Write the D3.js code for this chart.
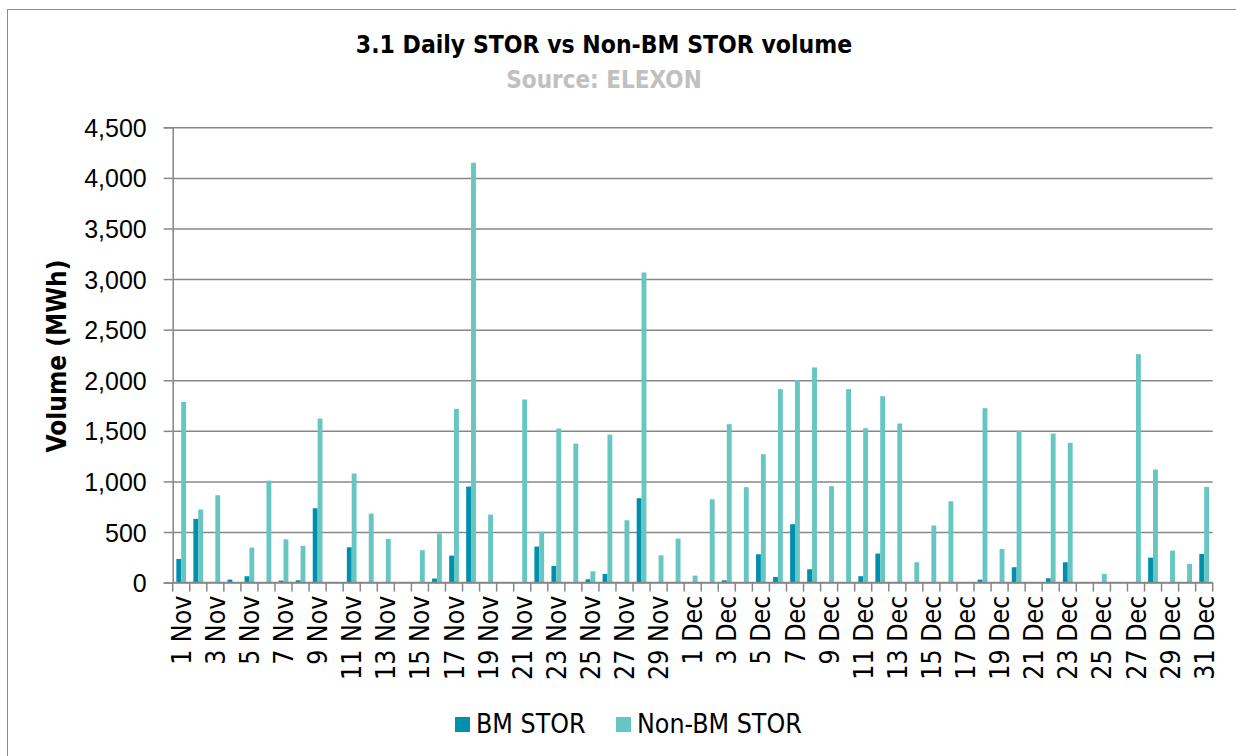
<!DOCTYPE html>
<html>
<head>
<meta charset="utf-8">
<script src="https://cdn.jsdelivr.net/npm/d3@7/dist/d3.min.js"></script>
<style>
	body { margin: 0; background: #fff; }
	svg { display: block; font-family: "DejaVu Sans Condensed", "DejaVu Sans", sans-serif; }
</style>
</head>
<body>
<div id="chart"></div>
<script>
// categories: every day from 1 Nov to 31 Dec
const DAYS = d3.timeDay.range(new Date(2013, 10, 1), new Date(2014, 0, 1)).map(d3.timeFormat('%-d %b'));
const SERIES = ['BM STOR', 'Non-BM STOR'];
const Y_TICKS = [0, 500, 1000, 1500, 2000, 2500, 3000, 3500, 4000, 4500];

// daily volumes in MWh
const BM_STOR = [
	234, 630, 0, 30, 63, 0, 20, 23, 735, 0,
	349, 0, 0, 0, 0, 40, 267, 949, 0, 0,
	0, 356, 165, 0, 33, 86, 0, 834, 0, 0,
	0, 0, 23, 0, 280, 56, 577, 132, 0, 0,
	63, 287, 0, 0, 0, 0, 0, 30, 0, 152,
	0, 43, 201, 0, 0, 0, 0, 247, 0, 0,
	283
];
const NON_BM_STOR = [
	1786, 722, 864, 0, 346, 1008, 428, 363, 1622, 0,
	1078, 682, 432, 0, 320, 485, 1717, 4150, 672, 0,
	1810, 504, 1523, 1374, 112, 1463, 616, 3065, 270, 435,
	69, 824, 1566, 943, 1269, 1912, 2001, 2126, 953, 1912,
	1526, 1842, 1572, 201, 564, 804, 0, 1724, 333, 1500,
	0, 1473, 1381, 0, 86, 0, 2258, 1117, 316, 185,
	946
];

const WIDTH = 1236;
const HEIGHT = 756;
const PLOT = { left: 172.7, right: 1212.7, top: 127.3, bottom: 582.6 };
const COLORS = ['#0090ae', '#66c6c1'];
const GRID = '#878787';
const FONT = 25;

const svg = d3.select('#chart').append('svg')
	.attr('width', WIDTH)
	.attr('height', HEIGHT);

// chart frame (only top/left edges fall inside the picture)
svg.append('rect')
	.attr('x', 7.5).attr('y', 9.5)
	.attr('width', WIDTH + 20).attr('height', HEIGHT + 20)
	.attr('fill', 'none').attr('stroke', '#8c8c8c');

const x = d3.scaleBand().domain(DAYS).range([PLOT.left, PLOT.right]);
const xs = d3.scaleBand().domain(SERIES).range([0, x.bandwidth()]).paddingOuter(0.75);
const y = d3.scaleLinear().domain([0, 4500]).range([PLOT.bottom, PLOT.top]);

// y axis with gridlines
const yAxis = svg.append('g')
	.attr('transform', 'translate(' + PLOT.left + ',0)')
	.call(d3.axisLeft(y).tickValues(Y_TICKS).tickFormat(d3.format(',')).tickSize(9).tickPadding(17));
yAxis.select('.domain').attr('stroke', GRID).attr('stroke-width', 1.5);
yAxis.selectAll('.tick line').attr('stroke', GRID).attr('stroke-width', 1.5);
yAxis.selectAll('.tick text')
	.attr('font-size', FONT).attr('font-family', null).attr('fill', '#000').attr('dy', '0.36em');
yAxis.selectAll('.tick').append('line')
	.attr('x1', 0).attr('x2', PLOT.right - PLOT.left)
	.attr('stroke', GRID).attr('stroke-width', 1.5);

// bars
const groups = svg.append('g').selectAll('g')
	.data(DAYS)
	.join('g')
		.attr('transform', d => 'translate(' + x(d) + ',0)');
groups.selectAll('rect')
	.data((d, i) => [BM_STOR[i], NON_BM_STOR[i]].map((v, k) => ({ key: SERIES[k], value: v })))
	.join('rect')
		.attr('x', d => xs(d.key))
		.attr('width', xs.bandwidth())
		.attr('y', d => y(d.value))
		.attr('height', d => y(0) - y(d.value))
		.attr('fill', (d, k) => COLORS[k]);

// x axis: baseline, boundary ticks, rotated labels every other day
const xAxis = svg.append('g');
xAxis.append('line')
	.attr('x1', PLOT.left).attr('x2', PLOT.right)
	.attr('y1', y(0)).attr('y2', y(0))
	.attr('stroke', GRID).attr('stroke-width', 1.5);
xAxis.selectAll('line.tick')
	.data(DAYS.map(d => x(d)).concat([PLOT.right]))
	.join('line')
		.attr('class', 'tick')
		.attr('x1', d => d).attr('x2', d => d)
		.attr('y1', y(0)).attr('y2', y(0) + 9)
		.attr('stroke', GRID).attr('stroke-width', 1.5);
xAxis.selectAll('text')
	.data(DAYS.filter((d, i) => i % 2 === 0))
	.join('text')
		.attr('transform', d => 'translate(' + (x(d) + x.bandwidth() / 2) + ',' + (y(0) + 13) + ') rotate(-90)')
		.attr('dy', '0.36em')
		.attr('text-anchor', 'end')
		.attr('font-size', 26.5)
		.text(d => d);

// titles
svg.append('text')
	.attr('x', 604).attr('y', 53)
	.attr('text-anchor', 'middle')
	.attr('font-size', 24.5).attr('font-weight', 'bold')
	.text('3.1 Daily STOR vs Non-BM STOR volume');
svg.append('text')
	.attr('x', 604).attr('y', 88)
	.attr('text-anchor', 'middle')
	.attr('font-size', 24).attr('font-weight', 'bold')
	.attr('fill', '#c0c0c0')
	.text('Source: ELEXON');
svg.append('text')
	.attr('transform', 'translate(66,356) rotate(-90)')
	.attr('text-anchor', 'middle')
	.attr('font-size', 26).attr('font-weight', 'bold')
	.text('Volume (MWh)');

// legend
const legend = svg.append('g').selectAll('g')
	.data(SERIES)
	.join('g')
		.attr('transform', (d, i) => 'translate(' + [455, 616][i] + ',717)');
legend.append('rect')
	.attr('width', 15).attr('height', 15)
	.attr('fill', (d, i) => COLORS[i]);
legend.append('text')
	.attr('x', 21).attr('y', 16)
	.attr('font-size', 26.5)
	.text(d => d);
</script>
</body>
</html>
